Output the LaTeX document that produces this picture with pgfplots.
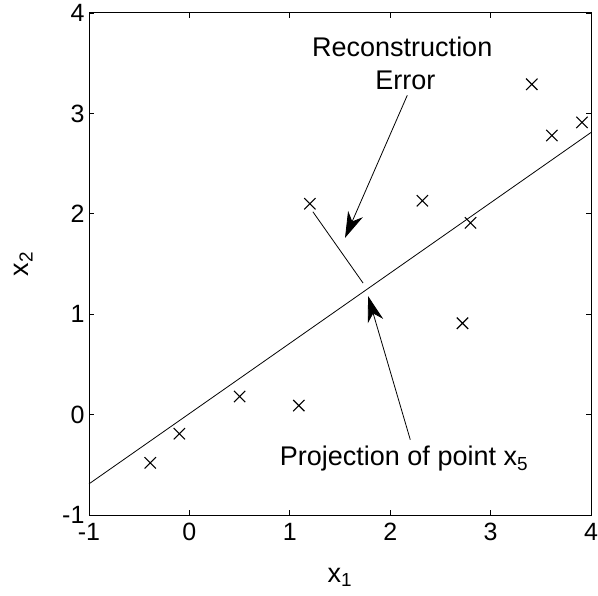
\documentclass[border=0pt]{standalone}
\usepackage{fontspec}
\setmainfont{Liberation Sans}
\usepackage{pgfplots}
\pgfplotsset{compat=1.18}
\usetikzlibrary{arrows.meta}
\begin{document}
\begin{tikzpicture}
\begin{axis}[name=ax,
  scale only axis, width=502pt, height=502pt,
  xmin=-1, xmax=4, ymin=-1, ymax=4,
  xtick={-1,0,1,2,3,4}, ytick={-1,0,1,2,3,4},
  xticklabels={-1,0,1,2,3,4}, yticklabels={-1,0,1,2,3,4},
  tick pos=both, tick align=inside, major tick length=5pt,
  tick style={line width=0.8pt, black},
  axis line style={line width=1pt},
  ticklabel style={font=\fontsize{25}{25}\selectfont},
  xticklabel style={yshift=-5pt},
  yticklabel style={xshift=-1pt},
  xlabel={x\textsubscript{1}},
  label style={font=\fontsize{27}{27}\selectfont},
  xlabel style={at={(axis description cs:0.5,-0.1335)}, anchor=base},
  clip=false,
]
\addplot[only marks, mark=x, mark size=8pt, mark options={line width=1.1pt}, black] coordinates {
 (-0.39,-0.48) (-0.10,-0.19) (0.50,0.18) (1.09,0.09) (1.20,2.10)
 (2.32,2.13) (2.80,1.91) (2.72,0.91) (3.41,3.29) (3.61,2.78) (3.91,2.91)
};
\addplot[black, line width=0.8pt] coordinates {(-1,-0.69) (4,2.81)};
\addplot[black, line width=0.8pt] coordinates {(1.23,2.02) (1.73,1.31)};
\draw[line width=0.8pt, -{Stealth[length=26pt, width=16pt, inset=8pt]}] (axis cs:2.17,3.18) -- (axis cs:1.55,1.76);
\draw[line width=0.8pt, -{Stealth[length=26pt, width=16pt, inset=8pt]}] (axis cs:2.20,-0.25) -- (axis cs:1.78,1.18);
\node[font=\fontsize{27}{27}\selectfont, anchor=base] at (axis cs:2.12,3.57) {Reconstruction};
\node[font=\fontsize{27}{27}\selectfont, anchor=base] at (axis cs:2.15,3.24) {Error};
\node[font=\fontsize{27}{27}\selectfont, anchor=base west, inner sep=0pt] at (axis cs:0.90,-0.51) {Projection of point x\textsubscript{5}};
\node[font=\fontsize{27}{27}\selectfont, rotate=90, anchor=base, inner sep=0pt] at (axis description cs:-0.1215,0.5) {x\textsubscript{2}};
\end{axis}
\pgfresetboundingbox
\path[use as bounding box] ([shift={(-89pt,-80pt)}]ax.south west) rectangle ([shift={(7pt,13pt)}]ax.north east);
\end{tikzpicture}
\end{document}
